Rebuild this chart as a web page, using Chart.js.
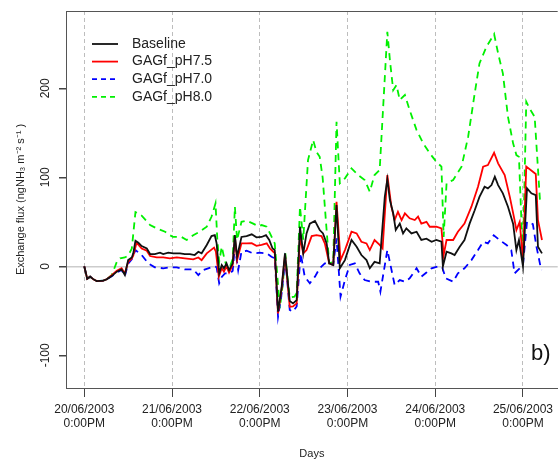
<!DOCTYPE html>
<html>
<head>
<meta charset="utf-8">
<script src="https://cdn.jsdelivr.net/npm/chart.js@4/dist/chart.umd.min.js"></script>
<style>
  body { margin: 0; background: #fff; }
  canvas { display: block; }
</style>
</head>
<body>
<canvas id="chart" width="558" height="463"></canvas>
<script>
/* Day ticks (hours after 20/06/2003 12:00) and their labels */
const dayTicks = [0, 24, 48, 72, 96, 120];
const dayLabels = ['20/06/2003', '21/06/2003', '22/06/2003', '23/06/2003', '24/06/2003', '25/06/2003'];
const fluxTicks = [-100, 0, 100, 200];

/* Baseline */
const baseHours = [0, 0.8, 1.6, 2.5, 3.4, 5.2, 6.1, 7.5, 8.9, 10.2, 11.1, 12.0, 13.0, 13.4, 14.0, 14.8, 15.7, 17.1, 18.0, 19.3,
    20.7, 21.6, 23.0, 24.3, 26.2, 27.5, 28.9, 30.2, 31.2, 32.1, 33.5, 34.8, 35.7, 36.2, 36.9, 37.6, 38.2, 38.9, 39.6, 40.6,
    41.2, 41.8, 43.0, 44.4, 45.8, 47.1, 48.5, 49.7, 50.6, 51.5, 52.1, 53.0, 54.0, 54.9, 55.3, 56.2, 57.1, 58.1, 59.0, 59.9,
    60.8, 61.7, 63.1, 64.4, 65.3, 66.3, 67.0, 68.1, 69.0, 69.9, 71.3, 73.1, 74.5, 75.8, 77.2, 78.1, 79.4, 80.8, 82.2, 82.9,
    83.6, 84.5, 85.2, 86.3, 87.2, 88.1, 89.5, 90.9, 92.2, 93.6, 95.0, 96.3, 97.7, 98.1, 99.1, 100.4, 101.3, 102.7, 104.0, 105.4,
    106.8, 108.1, 109.5, 110.4, 111.4, 112.3, 113.2, 114.5, 115.9, 117.3, 118.2, 118.9, 120.0, 121.1, 122.3, 123.5, 124.1, 125.2];
const baseFlux = [0, -14, -11.6, -14.6, -16.5, -16, -14.6, -11, -6, -3.4, -9.8, 7, 10, 14.6, 28.8, 26.5, 22.8, 20, 13.8, 13.8,
    15.3, 13.8, 15.3, 14.6, 14.6, 13.8, 13.8, 12.7, 16.4, 14.6, 24, 34, 35, 25.8, -7.9, 1.5, -2.2, 3.4, -4.2, 3.4,
    35, 10.8, 33, 34, 36, 32.6, 33, 35, 29.6, 20, 18.3, -51, -23, 14.6, -2.2, -39, -41.6, -37.9, 44.5, 14.6,
    37, 48, 51, 40.8, 37, 25.8, 3.4, 1.5, 68.9, -2.2, 7, 29.6, 22, 12.7, 7, -2.2, 5, 3.4, 78, 97.7,
    74.5, 59.6, 40.8, 48, 37, 42.7, 37, 38.9, 29.6, 31, 27.6, 29.6, 27.6, 0, 16.4, 14.6, 12.7, 22, 29.6, 48,
    63, 78, 89.4, 87.6, 91.3, 100.7, 91.3, 82, 67, 48, 18.3, 29.6, 0, 87.6, 82, 80, 22, 14.6];

/* GAGf_pH7.5 */
const ph75Hours = [0, 0.8, 1.6, 2.5, 3.4, 5.2, 6.1, 7.5, 8.9, 10.2, 11.1, 12.0, 13.0, 13.4, 14.3, 15.7, 17.1, 18.0, 19.8, 21.6,
    23.4, 25.3, 27.5, 29.8, 31.2, 32.1, 33.5, 35.5, 36.0, 36.8, 37.6, 38.2, 38.9, 39.6, 40.6, 41.2, 41.8, 43.0, 44.4, 45.8,
    47.1, 48.5, 49.9, 50.8, 51.7, 52.1, 53.0, 54.0, 54.9, 55.3, 56.2, 57.1, 58.1, 59.0, 59.9, 60.8, 62.2, 63.5, 64.9, 65.8,
    67.0, 68.1, 69.0, 70.1, 71.3, 73.1, 74.5, 75.8, 77.2, 78.1, 79.4, 80.8, 81.6, 82.9, 84.0, 84.9, 85.8, 86.8, 87.7, 89.0,
    90.4, 91.3, 92.2, 93.6, 94.5, 96.3, 97.7, 98.3, 99.1, 100.9, 102.2, 104.0, 105.9, 107.7, 109.1, 110.4, 112.1, 113.2, 115.0, 116.4,
    117.7, 118.2, 119.1, 120.0, 120.9, 123.5, 124.1, 125.2];
const ph75Flux = [0, -14, -11.6, -14.6, -16.5, -16, -14.6, -10, -5, -2, -8, 5, 9, 12, 26.5, 20, 17.5, 11.6, 10, 10,
    9, 10, 9, 7.9, 10, 7, 14.6, 21, 16.4, -11.6, -2, -6, 0, -7, 1.5, 33, 7, 25.8, 25.8, 26,
    23, 24, 25.8, 20, 16.4, 15, -52.8, -24.7, 12.7, -4, -45.4, -45, -41.6, 33, 14.6, 18.3, 34, 35, 34, 25.8,
    3.4, 1.5, 72.6, 7, 18.3, 38.9, 37, 27.6, 25.8, 18.3, 29.6, 24, 20, 102.6, 67, 52, 61.3, 52, 59.6, 54,
    52, 55.8, 48, 50, 44.5, 44.5, 42.7, 12.7, 29.6, 29.6, 38.9, 48, 67, 89.4, 112, 113.8, 127.6, 115.7, 102.6, 78,
    52, 40.8, 50, 7, 112, 103.7, 52, 29.6];

/* GAGf_pH7.0 */
const ph70Hours = [0, 0.8, 1.6, 2.5, 3.4, 5.2, 6.1, 7.5, 8.9, 10.2, 11.1, 12.0, 13.0, 14.0, 15.7, 17.5, 19.3, 21.6, 23.4, 25.3,
    27.5, 29.8, 31.2, 32.5, 33.9, 35.5, 36.2, 36.9, 37.6, 38.5, 39.8, 40.6, 41.2, 42.1, 43.0, 44.4, 46.2, 48.0, 49.9, 51.2,
    52.1, 53.0, 54.0, 54.9, 55.3, 56.2, 57.1, 58.1, 59.2, 60.3, 61.7, 63.1, 64.4, 65.8, 67.0, 68.1, 69.0, 70.1, 71.3, 72.6,
    74.0, 75.3, 76.7, 78.6, 80.4, 81.0, 82.9, 84.9, 86.3, 87.7, 89.0, 90.9, 92.2, 93.6, 95.0, 96.8, 97.9, 98.9, 100.9, 102.2,
    104.0, 105.9, 107.7, 109.1, 110.4, 112.0, 113.6, 115.5, 116.8, 117.7, 119.1, 120.0, 121.1, 122.7, 123.7, 125.0];
const ph70Flux = [0, -14, -11.6, -14.6, -16.5, -16, -14.6, -11, -7, -4, -11, 3, 8, 18.3, 12.7, 3.4, -1.1, -2.2, -1.1, -1.1,
    -3.4, -3.4, -9.8, -4.2, -2.2, 0, -1, -19, -12, -7.9, -7.9, -5, 22, -4.2, 16.4, 17.5, 14.6, 15.3, 14.6, 10.8,
    9, -56.6, -30, 7, -6, -49, -51, -45, 14.6, -11.6, -19, -11.6, -2.2, 3.4, 3.4, 1.5, 31.4, -34, -15.4, 1.5,
    3.4, -7.9, -15.4, -17.3, -17.3, -28.5, 18.3, -21, -15.4, -17.3, -13.5, -2.2, -11.6, -7, -2.2, 0, -1, -13.5, -17.3, -7.9,
    -2.2, 7, 18.3, 27.6, 25.8, 35, 29.6, 24, 18.3, -7.9, -2.2, 1.5, 50, 47.5, 22, -4.2];

/* GAGf_pH8.0 */
const ph80Hours = [0, 0.8, 1.6, 2.5, 3.4, 5.2, 6.1, 7.5, 8.9, 9.8, 11.1, 12.0, 13.0, 14.0, 14.8, 15.7, 18.0, 19.8, 22.1, 23.4,
    24.3, 26.6, 28.0, 29.8, 31.6, 33.5, 34.8, 35.9, 36.4, 36.9, 37.6, 38.2, 38.9, 39.6, 40.6, 41.2, 41.8, 43.0, 44.4, 46.2,
    47.6, 48.5, 49.9, 50.8, 52.1, 53.5, 54.3, 55.0, 55.4, 56.2, 57.5, 58.1, 59.0, 59.9, 61.2, 62.6, 63.5, 64.4, 65.2, 66.3,
    67.0, 68.1, 69.0, 69.9, 71.3, 73.1, 74.9, 76.7, 78.1, 79.4, 80.8, 82.9, 83.6, 84.5, 85.4, 86.3, 87.7, 89.0, 90.9, 92.7,
    94.5, 96.3, 97.7, 98.3, 99.1, 100.9, 103.2, 105.0, 106.8, 108.1, 110.0, 112.1, 113.2, 114.5, 115.9, 117.3, 118.2, 118.9, 119.6, 120.0,
    120.9, 121.8, 123.2, 124.7];
const ph80Flux = [0, -14, -11.6, -14.6, -16.5, -16, -14.6, -10, 5, 9, 10, 12, 20, 61, 59.5, 57, 46.4, 42.7, 38.9, 35,
    33, 33, 29.6, 35, 39, 44.5, 55.7, 70.8, 29.6, 5, 22, 10.8, 0, -3, 8, 67, 29.6, 50, 51.3, 48,
    45, 46.4, 44.5, 37, 25.8, -47, -20, 14.6, -5, -35, -34, -30, 67, 30, 119.4, 141.9, 128.8, 123, 100, 40,
    3.4, 5, 162.5, 93.3, 98.9, 110, 102.6, 97, 83.8, 102.6, 108.2, 263.6, 231.8, 198, 203.7, 186.9, 192.5, 175.6, 153.1, 138.2,
    127, 117.5, 112, 33, 93.3, 97, 112, 145.6, 194.4, 228, 246.7, 261, 239.3, 216.8, 168, 138.2, 125, 123, 48, 14.6,
    185, 177.5, 168, 70.8];

const FONT = '"Liberation Sans", Arial, sans-serif';

function points(hours, flux) {
    return hours.map((h, i) => ({ x: h, y: flux[i] }));
}

/* Legend in the top-left corner, box line on top, panel tag */
const extras = {
    id: 'extras',
    afterDraw(chart) {
        const ctx = chart.ctx;
        const area = chart.chartArea;
        ctx.save();
        // top edge of the box
        ctx.strokeStyle = '#555';
        ctx.lineWidth = 1;
        ctx.beginPath();
        ctx.moveTo(area.left, area.top + 0.5);
        ctx.lineTo(area.right, area.top + 0.5);
        ctx.stroke();

        // legend
        ctx.font = '14px ' + FONT;
        ctx.textBaseline = 'middle';
        chart.data.datasets.forEach((ds, i) => {
            const y = area.top + 33 + i * 17.6;
            ctx.strokeStyle = ds.borderColor;
            ctx.lineWidth = ds.borderWidth;
            ctx.setLineDash(ds.borderDash ? [5, 4] : []);
            ctx.beginPath();
            ctx.moveTo(area.left + 26, y);
            ctx.lineTo(area.left + 52, y);
            ctx.stroke();
            ctx.fillStyle = '#222';
            ctx.fillText(ds.label, area.left + 66, y);
        });

        // panel tag
        ctx.font = '22px ' + FONT;
        ctx.fillStyle = '#111';
        ctx.fillText('b)', 531, 354);
        ctx.restore();
    }
};

const chart = new Chart(document.getElementById('chart'), {
    type: 'line',
    data: {
        datasets: [
            { label: 'Baseline', data: points(baseHours, baseFlux), borderColor: '#111111', borderWidth: 1.8 },
            { label: 'GAGf_pH7.5', data: points(ph75Hours, ph75Flux), borderColor: '#ff0000', borderWidth: 1.8 },
            { label: 'GAGf_pH7.0', data: points(ph70Hours, ph70Flux), borderColor: '#0000ff', borderWidth: 1.8, borderDash: [7, 5] },
            { label: 'GAGf_pH8.0', data: points(ph80Hours, ph80Flux), borderColor: '#00f000', borderWidth: 1.8, borderDash: [7, 5] }
        ]
    },
    options: {
        responsive: false,
        animation: false,
        layout: { padding: { top: 11, left: 0, right: 0, bottom: 0 } },
        elements: { point: { radius: 0 }, line: { tension: 0 } },
        plugins: { legend: { display: false }, tooltip: { enabled: false } },
        scales: {
            x: {
                type: 'linear',
                min: -5,
                max: 129.5,
                afterBuildTicks: s => { s.ticks = dayTicks.map(v => ({ value: v })); },
                afterFit: s => { s.height = 75; },
                ticks: {
                    callback: (v, i) => [dayLabels[i], '0:00PM'],
                    font: { size: 12, family: FONT },
                    color: '#222',
                    maxRotation: 0,
                    padding: 5
                },
                grid: { color: '#bdbdbd', lineWidth: 1, tickColor: '#444', tickLength: 9 },
                border: { color: '#555', width: 1, dash: [4, 3] },
                title: {
                    display: true, text: 'Days', color: '#222',
                    font: { size: 11, family: FONT }, padding: { top: 0, bottom: 2.4 }
                }
            },
            y: {
                min: -136.7,
                max: 286.9,
                afterBuildTicks: s => { s.ticks = fluxTicks.map(v => ({ value: v })); },
                afterFit: s => { s.width = 66; },
                ticks: {
                    minRotation: 90,
                    maxRotation: 90,
                    crossAlign: 'center',
                    padding: 1,
                    font: { size: 12, family: FONT },
                    color: '#222'
                },
                grid: {
                    color: c => (c.tick && c.tick.value === 0 ? '#cccccc' : 'rgba(0,0,0,0)'),
                    lineWidth: 1.5,
                    tickColor: '#444',
                    tickLength: 7
                },
                border: { color: '#555', width: 1 },
                title: {
                    display: true, text: 'Exchange flux (ngNH₃ m⁻² s⁻¹ )', color: '#222',
                    font: { size: 11, family: FONT }, padding: { top: 14.4, bottom: 0 }
                }
            }
        }
    },
    plugins: [extras]
});
</script>
</body>
</html>
